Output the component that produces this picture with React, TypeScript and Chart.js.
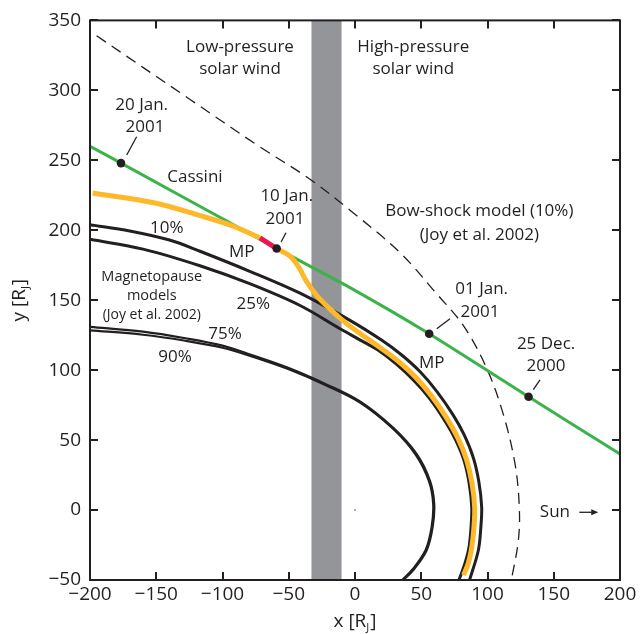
import React, { useEffect, useRef } from "react";
import { Chart, registerables } from "chart.js";

Chart.register(...registerables);

// ---------- data ----------
const X_TICKS = [-200, -150, -100, -50, 0, 50, 100, 150, 200];
const Y_TICKS = [-50, 0, 50, 100, 150, 200, 250, 300, 350];

// Cassini trajectory
const cassiniX = [-200, -176.6, -59.1, -3.8, 56, 131, 200];
const cassiniY = [260, 248, 187, 159, 126, 81, 40];

// dated positions on the trajectory
const dateNames = ["20 Jan. 2001", "10 Jan. 2001", "01 Jan. 2001", "25 Dec. 2000"];
const dateX = [-176.6, -59.1, 56, 131];
const dateY = [248, 187, 126, 81];

// observed magnetopause (yellow), split by the red segment
const obsAX = [-198, -151, -117, -92, -71.7];
const obsAY = [226.6, 219.5, 210.5, 203, 194.5];
const obsRedX = [-71.7, -59.1];
const obsRedY = [194.5, 186.9];
const obsBX = [-59.1, -49.1, -42, -37, -29, -19, -8, 4, 17, 31.6, 45.1, 57.8, 69.5, 77.7, 84.2, 88.3, 90.3, 89.8, 88, 85.5, 82];
const obsBY = [186.9, 181.5, 173, 164, 153.5, 143.8, 134.5, 126, 117.4, 107.2, 95.6, 81.5, 65.4, 51.4, 36, 19.2, 2, -12, -27.4, -38, -46.5];

// Joy et al. 2002 magnetopause models
const mp10X = [-200, -170, -140, -117, -79, -41.5, -3.8, 20, 35, 49, 62, 74, 82.5, 89.3, 93.5, 95.6, 95, 93.1, 86.5];
const mp10Y = [204, 199.5, 193, 185, 170.5, 155, 135.6, 121.5, 111, 99, 84.5, 68, 53.5, 37.4, 20, 2, -12, -28.7, -50];
const mp25X = [-200, -160, -117, -79, -41.5, -11.3, 4, 17, 31, 44, 56.5, 68, 76, 82.3, 86.2, 88.1, 87.6, 86, 83, 78.5];
const mp25Y = [193.5, 186.5, 174.6, 161.6, 146.2, 129.6, 121.5, 114.5, 104.5, 93, 79.5, 63.5, 50, 35.3, 18.8, 2, -12, -27, -38, -50];
const mp75X = [-200, -160, -128, -100, -78, -50, -22, 3.8, 28.9, 46.6, 56.6, 59.8, 58.6, 54.1, 44, 36.5];
const mp75Y = [131, 127.5, 122.8, 117.5, 110.8, 101.5, 90, 77.6, 58.7, 39.9, 20.9, 4.4, -12.2, -28.7, -42.9, -50];
const mp90X = [-200, -160, -128, -100, -78, -50, -22, 3.8, 28.9, 46, 55.8, 59, 57.8, 53.3, 43.2, 35.6];
const mp90Y = [128.5, 125.3, 121, 116, 109.8, 100.6, 89.2, 76.8, 57.9, 39.3, 20.6, 4.4, -12.2, -28.5, -42.7, -50];

// Joy et al. 2002 bow-shock model (10%)
const bowX = [-195, -124.5, -74, -34, -4, 34, 61.7, 81.7, 99.4, 112, 120.8, 124, 123.3, 118];
const bowY = [339, 293.5, 261, 236.5, 214.5, 184, 154.5, 132, 101.3, 68.2, 32.8, 2, -21.6, -50];

// shaded transition band in x
const bandX = [-33, -10];
const bandTop = [350, 350];

// Jupiter
const jupX = [0];
const jupY = [0];

// ---------- annotations (data coordinates) ----------
const LABELS = [
  { t: "Low-pressure", x: -86.8, y: 331.1, s: 17 },
  { t: "solar wind", x: -86.8, y: 315.2, s: 17 },
  { t: "High-pressure", x: 44, y: 331.1, s: 17 },
  { t: "solar wind", x: 44, y: 315.2, s: 17 },
  { t: "20 Jan.", x: -161, y: 289.2, s: 17 },
  { t: "2001", x: -158.5, y: 273.4, s: 17 },
  { t: "Cassini", x: -120.8, y: 237.9, s: 17 },
  { t: "10 Jan.", x: -51.5, y: 224.7, s: 17 },
  { t: "2001", x: -52.8, y: 207.7, s: 17 },
  { t: "10%", x: -142.1, y: 201.8, s: 17 },
  { t: "MP", x: -85.5, y: 184.5, s: 17 },
  { t: "Magnetopause", x: -153.4, y: 167, s: 14.5 },
  { t: "models", x: -153.4, y: 152.8, s: 14.5 },
  { t: "(Joy et al. 2002)", x: -153.4, y: 139.1, s: 14 },
  { t: "25%", x: -76.8, y: 147.4, s: 17 },
  { t: "75%", x: -98.1, y: 125.7, s: 17 },
  { t: "90%", x: -135.8, y: 109.6, s: 17 },
  { t: "Bow-shock model (10%)", x: 93.8, y: 213.6, s: 17 },
  { t: "(Joy et al. 2002)", x: 93.8, y: 196.6, s: 17 },
  { t: "01 Jan.", x: 95.6, y: 157.6, s: 17 },
  { t: "2001", x: 94.3, y: 141.5, s: 17 },
  { t: "MP", x: 57.9, y: 104.8, s: 17 },
  { t: "25 Dec.", x: 144.2, y: 118.3, s: 17 },
  { t: "2000", x: 144.2, y: 102.5, s: 17 },
  { t: "Sun", x: 150.9, y: -1.6, s: 17 },
];
const LEADERS = [
  [-172.3, 253.8, -164.8, 266.8],
  [-55.8, 191.6, -52.1, 198.2],
  [61.7, 129.6, 71.7, 136.7],
  [134.6, 86, 139.6, 93],
];
const SUN_ARROW = [169.3, 183.6, -1.6];

const INK = "#231f20";
const FONT = '"Open Sans", sans-serif';

const pts = (xs: number[], ys: number[]) => xs.map((v, i) => ({ x: v, y: ys[i] }));

const line = (xs: number[], ys: number[], color: string, width: number, order: number, extra: any = {}) => ({
  data: pts(xs, ys),
  showLine: true,
  borderColor: color,
  borderWidth: width,
  pointRadius: 0,
  tension: 0.35,
  capBezierPoints: false,
  fill: false,
  order,
  ...extra,
});

const overlay = {
  id: "overlay",
  afterDatasetsDraw(chart: any) {
    const { ctx, chartArea: a, scales } = chart;
    const sx = scales.x, sy = scales.y;
    const px = (v: number) => sx.getPixelForValue(v);
    const py = (v: number) => sy.getPixelForValue(v);
    ctx.save();
    ctx.strokeStyle = INK;
    ctx.fillStyle = INK;
    ctx.lineWidth = 1.3;
    LEADERS.forEach((l) => {
      ctx.beginPath();
      ctx.moveTo(px(l[0]), py(l[1]));
      ctx.lineTo(px(l[2]), py(l[3]));
      ctx.stroke();
    });
    ctx.textAlign = "center";
    ctx.textBaseline = "middle";
    LABELS.forEach((l) => {
      ctx.font = `${l.s}px ${FONT}`;
      ctx.fillText(l.t, px(l.x), py(l.y));
    });
    // sun arrow
    const ax0 = px(SUN_ARROW[0]), ax1 = px(SUN_ARROW[1]), ay = py(SUN_ARROW[2]);
    ctx.lineWidth = 1.3;
    ctx.beginPath();
    ctx.moveTo(ax0, ay);
    ctx.lineTo(ax1 - 3, ay);
    ctx.stroke();
    ctx.beginPath();
    ctx.moveTo(ax1, ay);
    ctx.lineTo(ax1 - 7, ay - 3);
    ctx.lineTo(ax1 - 7, ay + 3);
    ctx.closePath();
    ctx.fill();
    // frame
    ctx.lineWidth = 2;
    ctx.strokeRect(a.left, a.top, a.right - a.left, a.bottom - a.top);
    // inward ticks
    const TL = 8;
    ctx.beginPath();
    X_TICKS.forEach((v) => {
      const x = Math.round(px(v));
      ctx.moveTo(x, a.bottom);
      ctx.lineTo(x, a.bottom - TL);
      ctx.moveTo(x, a.top);
      ctx.lineTo(x, a.top + TL);
    });
    Y_TICKS.forEach((v) => {
      const y = Math.round(py(v));
      ctx.moveTo(a.left, y);
      ctx.lineTo(a.left + TL, y);
      ctx.moveTo(a.right, y);
      ctx.lineTo(a.right - TL, y);
    });
    ctx.stroke();
    // axis titles with subscript J
    const drawTitle = (head: string, sub: string, tail: string) => {
      ctx.textAlign = "left";
      ctx.textBaseline = "middle";
      ctx.font = `19px ${FONT}`;
      const w1 = ctx.measureText(head).width;
      const w3 = ctx.measureText(tail).width;
      ctx.font = `11px ${FONT}`;
      const w2 = ctx.measureText(sub).width;
      const total = w1 + w2 + w3 + 1;
      const x0 = -total / 2;
      ctx.font = `19px ${FONT}`;
      ctx.fillText(head, x0, 0);
      ctx.font = `11px ${FONT}`;
      ctx.fillText(sub, x0 + w1, 6);
      ctx.font = `19px ${FONT}`;
      ctx.fillText(tail, x0 + w1 + w2 + 1, 0);
    };
    ctx.save();
    ctx.translate((a.left + a.right) / 2, 622);
    drawTitle("x [R", "J", "]");
    ctx.restore();
    ctx.save();
    ctx.translate(20, (a.top + a.bottom) / 2);
    ctx.rotate(-Math.PI / 2);
    drawTitle("y [R", "J", "]");
    ctx.restore();
    ctx.restore();
  },
};

export default function App() {
  const ref = useRef<HTMLCanvasElement | null>(null);
  useEffect(() => {
    if (!ref.current) return;
    const tickFont = { family: FONT, size: 19 };
    const fmt = (v: any) => String(v).replace("-", "\u2212");
    const chart = new Chart(ref.current, {
      type: "scatter",
      data: {
        datasets: [
          { ...line(dateX, dateY, INK, 0, 0), showLine: false, pointRadius: 4.3, pointBackgroundColor: INK, pointBorderWidth: 0, label: "dates" },
          line(obsRedX, obsRedY, "#e8184e", 5, 1, { tension: 0 }),
          line(obsAX, obsAY, "#fdb92a", 5, 2),
          line(obsBX, obsBY, "#fdb92a", 5, 2),
          line(cassiniX, cassiniY, "#3bb34a", 3, 3, { tension: 0.2 }),
          line(mp10X, mp10Y, INK, 3, 4),
          line(mp25X, mp25Y, INK, 3, 4),
          line(mp75X, mp75Y, INK, 2.2, 4),
          line(mp90X, mp90Y, INK, 2.2, 4),
          line(bowX, bowY, INK, 1.3, 5, { borderDash: [11, 7] }),
          { ...line(jupX, jupY, "#999", 0, 5), showLine: false, pointRadius: 1, pointBackgroundColor: "#999", pointBorderWidth: 0 },
          line(bandX, bandTop, "rgba(0,0,0,0)", 0, 10, { fill: "start", backgroundColor: "#939598", tension: 0 }),
        ],
      },
      options: {
        responsive: false,
        animation: false,
        events: [],
        layout: { padding: { top: 16, right: 21, left: 0, bottom: 0 } },
        plugins: { legend: { display: false }, tooltip: { enabled: false } },
        scales: {
          x: {
            type: "linear",
            min: -200,
            max: 200,
            afterFit: (s: any) => { s.height = 54; },
            grid: { display: false, drawTicks: false },
            border: { display: false },
            ticks: { stepSize: 50, font: tickFont, color: INK, padding: 3, maxRotation: 0, autoSkip: false, callback: fmt },
          },
          y: {
            type: "linear",
            min: -50,
            max: 350,
            afterFit: (s: any) => { s.width = 90; },
            grid: { display: false, drawTicks: false },
            border: { display: false },
            ticks: { stepSize: 50, font: tickFont, color: INK, padding: 9, autoSkip: false, callback: fmt },
          },
        },
      },
      plugins: [overlay],
    } as any);
    return () => chart.destroy();
  }, []);
  return (
    <div style={{ position: "fixed", left: 0, top: 0, width: 641, height: 634, background: "#fff" }}>
      <canvas ref={ref} width={641} height={634} style={{ display: "block" }} />
    </div>
  );
}
